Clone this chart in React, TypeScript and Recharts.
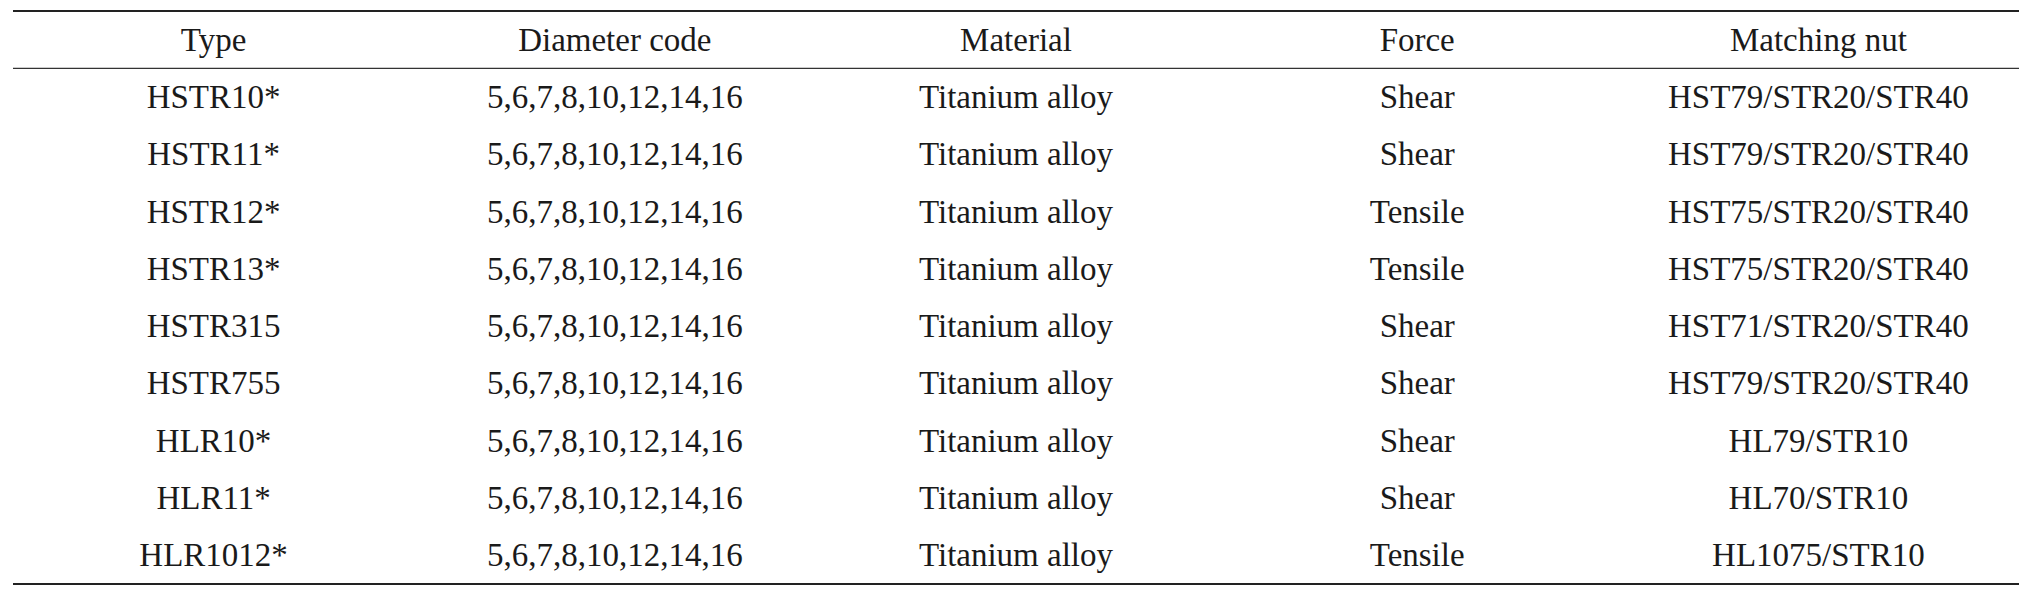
import { ScatterChart, Scatter, XAxis, YAxis, ReferenceLine } from 'recharts'

const headers = ['Type', 'Diameter code', 'Material', 'Force', 'Matching nut']
const types = ['HSTR10*', 'HSTR11*', 'HSTR12*', 'HSTR13*', 'HSTR315', 'HSTR755', 'HLR10*', 'HLR11*', 'HLR1012*']
const diameterCodes = [
  '5,6,7,8,10,12,14,16', '5,6,7,8,10,12,14,16', '5,6,7,8,10,12,14,16',
  '5,6,7,8,10,12,14,16', '5,6,7,8,10,12,14,16', '5,6,7,8,10,12,14,16',
  '5,6,7,8,10,12,14,16', '5,6,7,8,10,12,14,16', '5,6,7,8,10,12,14,16',
]
const materials = [
  'Titanium alloy', 'Titanium alloy', 'Titanium alloy', 'Titanium alloy', 'Titanium alloy',
  'Titanium alloy', 'Titanium alloy', 'Titanium alloy', 'Titanium alloy',
]
const forces = ['Shear', 'Shear', 'Tensile', 'Tensile', 'Shear', 'Shear', 'Shear', 'Shear', 'Tensile']
const nuts = [
  'HST79/STR20/STR40', 'HST79/STR20/STR40', 'HST75/STR20/STR40', 'HST75/STR20/STR40',
  'HST71/STR20/STR40', 'HST79/STR20/STR40', 'HL79/STR10', 'HL70/STR10', 'HL1075/STR10',
]

const columns = [types, diameterCodes, materials, forces, nuts]

// one point per cell: x = column, y = row (header is row 0)
const cells = [
  ...headers.map((label, c) => ({ x: c + 0.5, y: 0.5, label })),
  ...columns.flatMap((col, c) => col.map((label, r) => ({ x: c + 0.5, y: r + 1.5, label }))),
]

const TEXT = '#1a1a1a'

const Cell = (props: any) => (
  <text
    x={props.cx}
    y={props.cy}
    textAnchor="middle"
    dominantBaseline="central"
    fontFamily="'Liberation Serif', 'Times New Roman', serif"
    fontSize={33}
    fill={TEXT}
  >
    {props.payload.label}
  </text>
)

export default function App() {
  return (
    <div style={{ position: 'absolute', left: 0, top: 0, background: '#fff' }}>
      <ScatterChart width={2043} height={600} margin={{ top: 11, right: 24, bottom: 16, left: 13 }}>
        <XAxis type="number" dataKey="x" domain={[0, 5]} hide />
        <YAxis type="number" dataKey="y" domain={[0, 10]} reversed hide />
        <ReferenceLine y={0} stroke="#222" strokeWidth={2.2} />
        <ReferenceLine y={1} stroke="#333" strokeWidth={1.3} />
        <ReferenceLine y={10} stroke="#222" strokeWidth={2.2} />
        <Scatter data={cells} shape={Cell} isAnimationActive={false} />
      </ScatterChart>
    </div>
  )
}
